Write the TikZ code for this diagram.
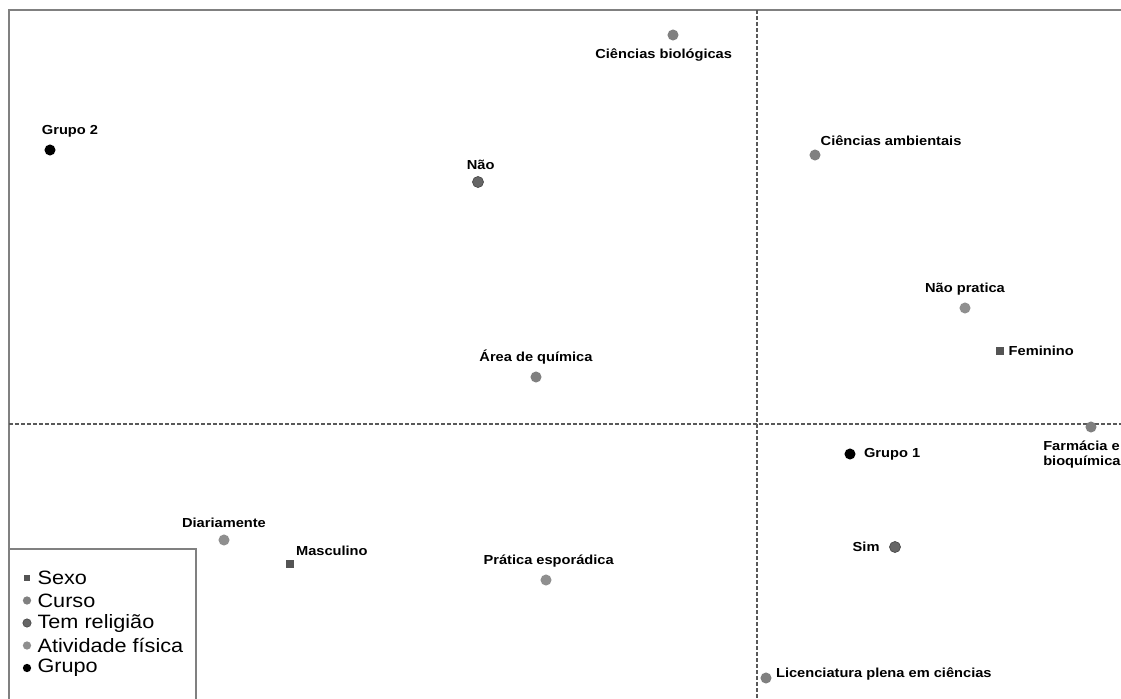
\documentclass[tikz,border=0pt]{standalone}
\usepackage{fontspec}
\setmainfont{Liberation Sans}[FakeStretch=1.12]
\usetikzlibrary{positioning}

\definecolor{sexocor}{gray}{0.33}
\definecolor{cursocor}{gray}{0.50}
\definecolor{religcor}{gray}{0.40}
\definecolor{ativcor}{gray}{0.56}
\definecolor{molduracor}{gray}{0.50}
\definecolor{eixocor}{gray}{0.35}

\begin{document}
\begin{tikzpicture}[
		x=0.75pt,y=-0.75pt,
		ponto/.style={
		  circle,
		  inner sep=0pt,
		  minimum size=8.3pt
		  },
		sexo/.style={rectangle, inner sep=0pt, minimum size=6.3pt, fill=sexocor},
		curso/.style={ponto, fill=cursocor},
		relig/.style={ponto, fill=religcor, draw=black!70, line width=0.5pt},
		ativ/.style={ponto, fill=ativcor},
		grupo/.style={ponto, fill=black},
		rotulo/.style={
		  font=\bfseries\fontsize{9.8}{11.5}\selectfont,
		  inner sep=1pt
		  },
		legenda/.style={
		  font=\fontsize{14.5}{16}\selectfont,
		  inner sep=1pt,
		  anchor=west
		  },
		eixo/.style={eixocor, line width=1pt, dash pattern=on 3pt off 1.5pt}
		]
		\useasboundingbox (0,0) rectangle (1121,699);
		% moldura e eixos
		\draw[molduracor, line width=2pt] (9,699) -- (9,10) -- (1121,10);
		\draw[eixo] (757,10) -- (757,699);
		\draw[eixo] (9,424) -- (1121,424);

		% grupos
		\node[grupo] (g2) at (50,150) {};
		\node[rotulo, above=4pt of g2, xshift=15pt] (g2L) {Grupo 2};
		\node[grupo] (g1) at (850,454) {};
		\node[rotulo, right=5pt of g1] (g1L) {Grupo 1};

		% curso
		\node[curso] (biol) at (673,35) {};
		\node[rotulo, below=5pt of biol, xshift=-7pt] (biolL) {Ciências biológicas};
		\node[curso] (amb) at (815,155) {};
		\node[rotulo, above right=3pt and 0pt of amb] (ambL) {Ciências ambientais};
		\node[curso] (quim) at (536,377) {};
		\node[rotulo, above=4pt of quim] (quimL) {Área de química};
		\node[curso] (farm) at (1091,427) {};
		\node[rotulo, align=left, below=5pt of farm.south, anchor=north west, xshift=-37pt] (farmL) {Farmácia e\\bioquímica};
		\node[curso] (lic) at (766,678) {};
		\node[rotulo, right=2pt of lic, yshift=3pt] (licL) {Licenciatura plena em ciências};

		% tem religiao
		\node[relig] (nao) at (478,182) {};
		\node[rotulo, above=4pt of nao, xshift=2pt] (naoL) {Não};
		\node[relig] (sim) at (895,547) {};
		\node[rotulo, left=6pt of sim] (simL) {Sim};

		% atividade fisica
		\node[ativ] (naoprat) at (965,308) {};
		\node[rotulo, above=4pt of naoprat] (naopratL) {Não pratica};
		\node[ativ] (diar) at (224,540) {};
		\node[rotulo, above=4pt of diar] (diarL) {Diariamente};
		\node[ativ] (espor) at (546,580) {};
		\node[rotulo, above=4pt of espor, xshift=2pt] (esporL) {Prática esporádica};

		% sexo
		\node[sexo] (fem) at (1000,351) {};
		\node[rotulo, right=2pt of fem] (femL) {Feminino};
		\node[sexo] (masc) at (290,564) {};
		\node[rotulo, above right=2pt and 0pt of masc] (mascL) {Masculino};

		% legenda
		\draw[molduracor, line width=1.2pt] (9,549) -- (196,549) -- (196,699);
		\foreach \estilo/\texto [count=\i] in {sexo/Sexo, curso/Curso, relig/Tem religião, ativ/Atividade física, grupo/Grupo}
		{
		  \node[\estilo, scale=0.75] (leg\i) at (27,{555.5+22.5*\i}) {};
		  \node[legenda] (leg\i L) at (36,{555.5+22.5*\i}) {\texto};
		}
	\end{tikzpicture}
\end{document}
